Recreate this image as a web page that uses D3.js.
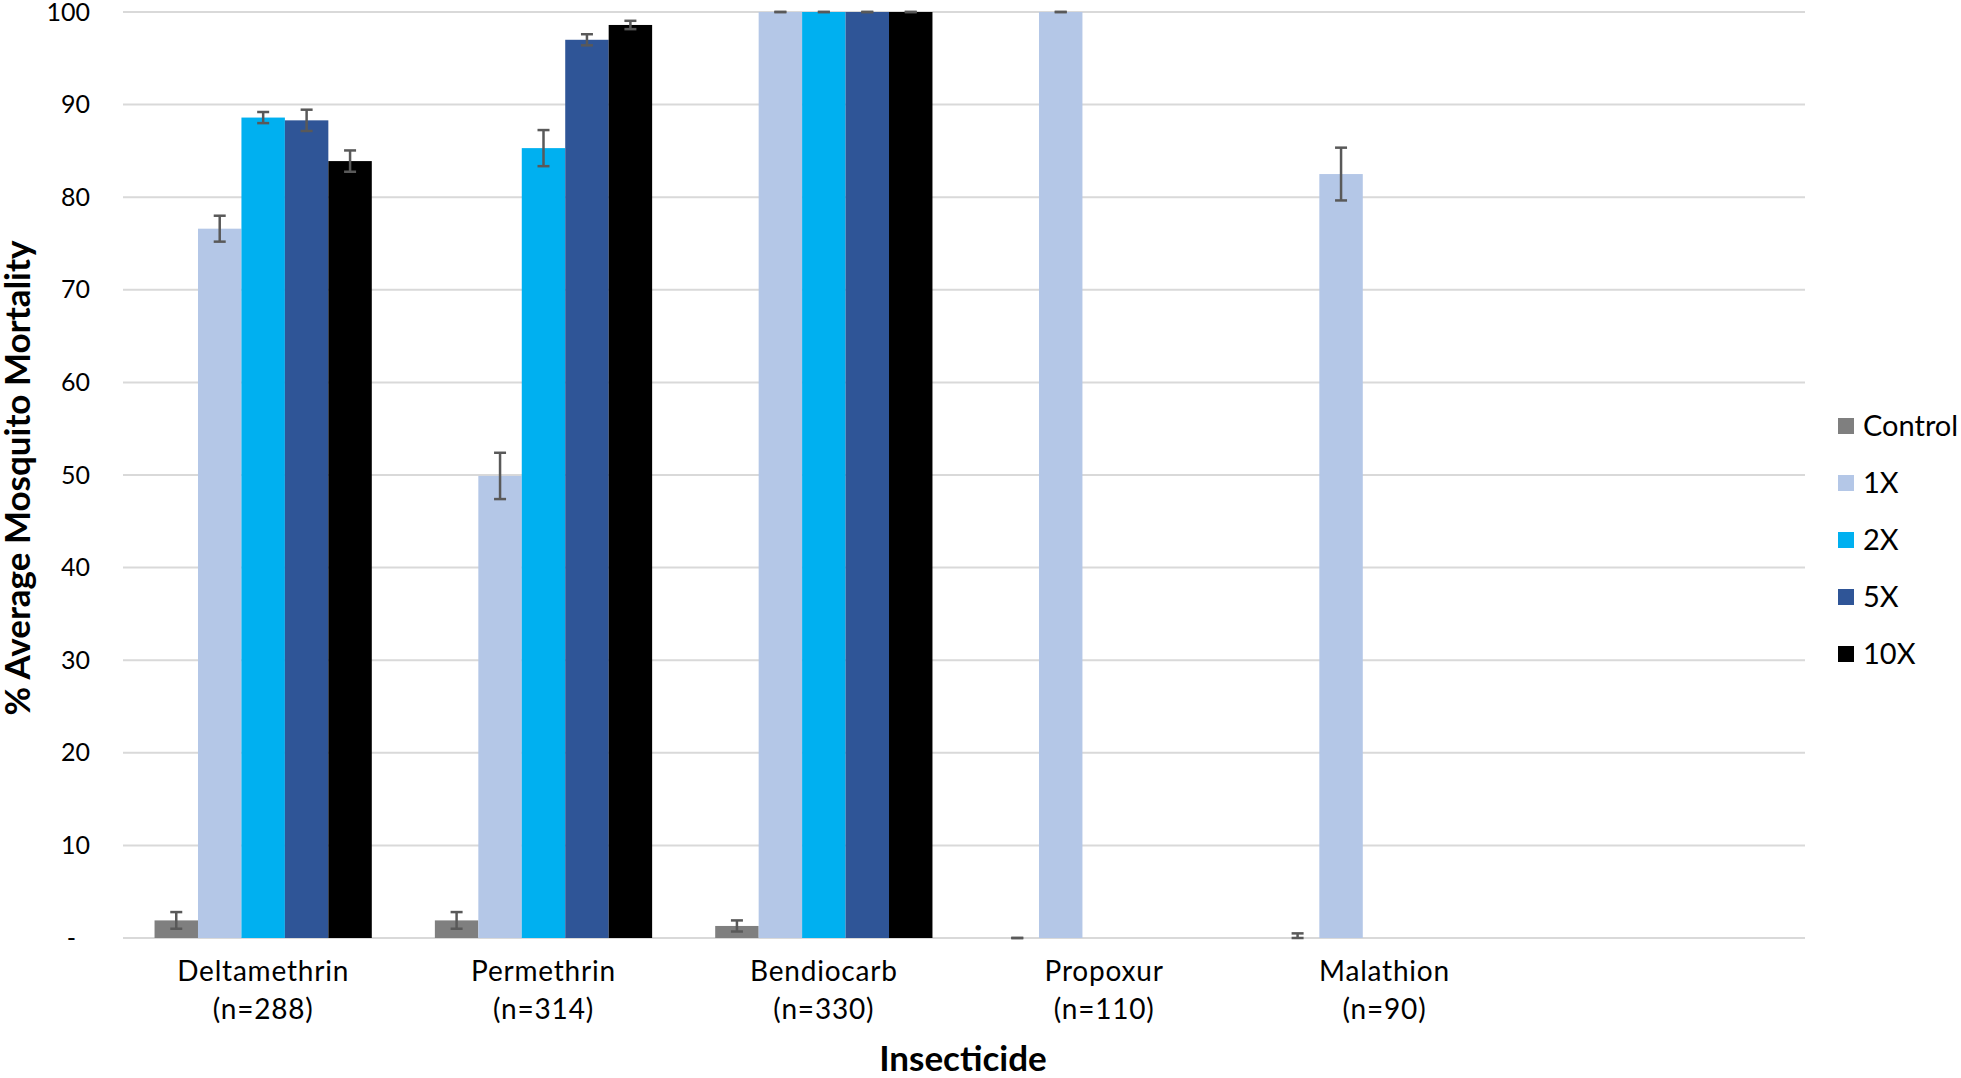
<!DOCTYPE html>
<html><head><meta charset="utf-8">
<script src="https://cdn.jsdelivr.net/npm/d3@7"></script>
<style>
html,body{margin:0;padding:0;background:#fff;}
svg{display:block;font-family:Lato, "Open Sans", sans-serif;}
</style></head>
<body>
<svg id="chart" width="1961" height="1078"></svg>
<script>
// ---- data ----
const categories = ["Deltamethrin", "Permethrin", "Bendiocarb", "Propoxur", "Malathion", ""];
const sampleSizes = ["(n=288)", "(n=314)", "(n=330)", "(n=110)", "(n=90)", ""];
const seriesNames = ["Control", "1X", "2X", "5X", "10X"];
const seriesColors = ["#7f7f7f", "#b4c7e7", "#00b0f0", "#2f5597", "#000000"];
const controlValues = [1.9, 1.9, 1.3, 0, 0, null];
const x1Values = [76.6, 49.9, 100, 100, 82.5, null];
const x2Values = [88.6, 85.3, 100, null, null, null];
const x5Values = [88.3, 97.0, 100, null, null, null];
const x10Values = [83.9, 98.6, 100, null, null, null];
const controlErrors = [0.9, 0.9, 0.6, 0, 0.5, null];
const x1Errors = [1.4, 2.5, 0, 0, 2.85, null];
const x2Errors = [0.6, 1.95, 0, null, null, null];
const x5Errors = [1.15, 0.6, 0, null, null, null];
const x10Errors = [1.15, 0.45, 0, null, null, null];
const yTicks = [0, 10, 20, 30, 40, 50, 60, 70, 80, 90, 100];
const yTitle = "% Average Mosquito Mortality";
const xTitle = "Insecticide";

const seriesValues = [controlValues, x1Values, x2Values, x5Values, x10Values];
const seriesErrors = [controlErrors, x1Errors, x2Errors, x5Errors, x10Errors];

// ---- layout ----
const svg = d3.select("#chart");
const plot = {left: 123, right: 1805, top: 12, bottom: 938};

const x = d3.scaleBand().domain(d3.range(categories.length))
  .range([plot.left, plot.right]).paddingInner(0.225).paddingOuter(0.1125);
const xs = d3.scaleBand().domain(d3.range(seriesNames.length))
  .range([0, x.bandwidth()]).padding(0);
const y = d3.scaleLinear().domain([0, 100]).range([plot.bottom, plot.top]);

// gridlines
svg.append("g").selectAll("line").data(yTicks).join("line")
  .attr("x1", plot.left).attr("x2", plot.right)
  .attr("y1", d => y(d)).attr("y2", d => y(d))
  .attr("stroke", "#d9d9d9").attr("stroke-width", 2);

// y axis labels
const yAxis = d3.axisLeft(y).tickValues(yTicks).tickSize(0).tickPadding(0)
  .tickFormat(d => d === 0 ? "-" : d3.format("d")(d));
const yg = svg.append("g").attr("transform", `translate(${90},0)`).call(yAxis);
yg.select(".domain").remove();
yg.selectAll("text").attr("font-size", 25).attr("fill", "#000")
  .attr("font-family", "Lato, sans-serif")
  .attr("dx", d => d === 0 ? -14 : 0);

// bars
const flat = [];
seriesValues.forEach((vals, si) => vals.forEach((v, ci) => {
  if (v !== null) flat.push({si, ci, v, e: seriesErrors[si][ci]});
}));

svg.append("g").selectAll("rect").data(flat).join("rect")
  .attr("x", d => x(d.ci) + xs(d.si))
  .attr("width", xs.bandwidth())
  .attr("y", d => y(d.v))
  .attr("height", d => y(0) - y(d.v))
  .attr("fill", d => seriesColors[d.si]);

// error bars
const eg = svg.append("g").attr("stroke", "#595959").attr("stroke-width", 2.5);
const capW = 12;
flat.forEach(d => {
  const cx = x(d.ci) + xs(d.si) + xs.bandwidth() / 2;
  const hi = Math.min(100, d.v + d.e), lo = Math.max(0, d.v - d.e);
  eg.append("line").attr("x1", cx).attr("x2", cx).attr("y1", y(hi)).attr("y2", y(lo));
  eg.append("line").attr("x1", cx - capW/2).attr("x2", cx + capW/2).attr("y1", y(hi)).attr("y2", y(hi));
  eg.append("line").attr("x1", cx - capW/2).attr("x2", cx + capW/2).attr("y1", y(lo)).attr("y2", y(lo));
});

// category labels
const cg = svg.append("g").attr("font-size", 28).attr("letter-spacing", 0.8)
  .attr("text-anchor", "middle").attr("fill", "#000");
categories.forEach((c, i) => {
  const cx = x(i) + x.bandwidth() / 2;
  cg.append("text").attr("x", cx).attr("y", 981).text(c);
  cg.append("text").attr("x", cx).attr("y", 1019).text(sampleSizes[i]);
});

// axis titles
svg.append("text").attr("x", 963).attr("y", 1071).attr("text-anchor", "middle")
  .attr("font-size", 35).attr("font-weight", "bold").text(xTitle);
svg.append("text").attr("transform", "translate(30,478) rotate(-90)")
  .attr("text-anchor", "middle").attr("font-size", 35).attr("font-weight", "bold").text(yTitle);

// legend
const lg = svg.append("g");
seriesNames.forEach((n, i) => {
  const cy = 426 + i * 57;
  lg.append("rect").attr("x", 1838).attr("y", cy - 8).attr("width", 16).attr("height", 16)
    .attr("fill", seriesColors[i]);
  lg.append("text").attr("x", 1863).attr("y", cy).attr("dy", "0.36em")
    .attr("font-size", 29).text(n);
});
</script>
</body></html>
